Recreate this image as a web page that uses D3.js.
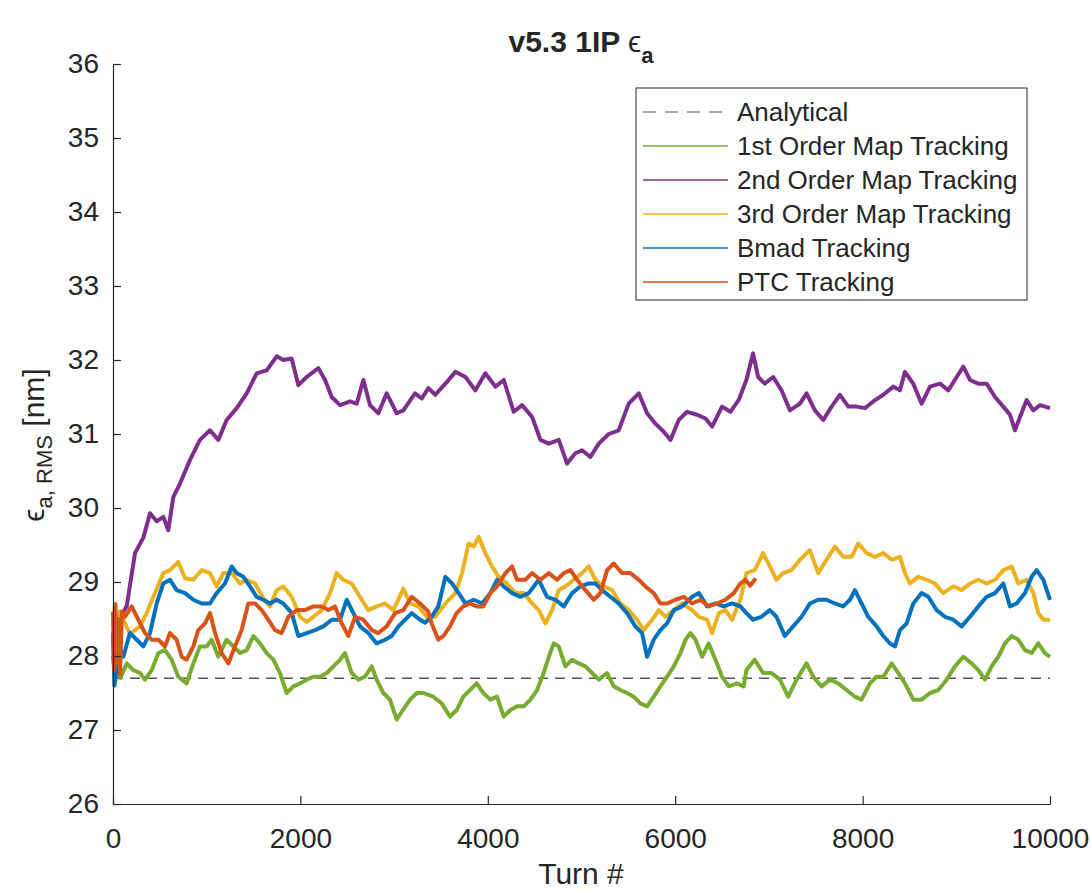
<!DOCTYPE html>
<html>
<head>
<meta charset="utf-8">
<script src="https://cdn.jsdelivr.net/npm/d3@7"></script>
<style>
  body { margin: 0; background: #fff; }
  text { font-family: "Liberation Sans", Arial, Helvetica, sans-serif; fill: #262626; }
</style>
</head>
<body>
<svg id="chart" width="1091" height="891"></svg>
<script>
// values: [turn, emittance nm]
const seriesNames = ["Analytical", "1st Order Map Tracking", "2nd Order Map Tracking",
  "3rd Order Map Tracking", "Bmad Tracking", "PTC Tracking"];
const seriesColors = ["#555555", "#77AC30", "#7E2F8E", "#EDB120", "#0072BD", "#D95319"];
const analytical = 27.7;
const xTicks = [0, 2000, 4000, 6000, 8000, 10000];
const yTicks = [26, 27, 28, 29, 30, 31, 32, 33, 34, 35, 36];

const firstOrder = [[0,28.0],[20,27.75],[50,27.95],[80,27.7],[146,27.9],[217,27.81],[288,27.77],[342,27.68],[413,27.81],[484,28.04],[555,28.08],[626,27.95],[697,27.72],[786,27.63],[857,27.9],[928,28.13],[999,28.13],[1053,28.22],[1124,27.99],[1213,28.22],[1284,28.13],[1356,28.04],[1427,28.08],[1498,28.27],[1569,28.17],[1640,28.04],[1711,27.95],[1782,27.77],[1853,27.5],[1925,27.59],[1996,27.63],[2067,27.68],[2138,27.72],[2209,27.72],[2281,27.77],[2352,27.86],[2423,27.95],[2476,28.04],[2547,27.77],[2618,27.68],[2689,27.72],[2761,27.86],[2814,27.68],[2885,27.5],[2956,27.41],[3028,27.14],[3099,27.28],[3171,27.41],[3242,27.5],[3313,27.5],[3419,27.45],[3508,27.36],[3597,27.18],[3668,27.27],[3739,27.45],[3810,27.54],[3881,27.63],[3952,27.5],[4028,27.41],[4099,27.45],[4170,27.18],[4241,27.27],[4312,27.32],[4384,27.32],[4455,27.41],[4526,27.54],[4597,27.77],[4651,27.99],[4704,28.17],[4757,28.13],[4828,27.86],[4900,27.95],[4971,27.9],[5042,27.86],[5113,27.77],[5184,27.68],[5273,27.77],[5344,27.59],[5415,27.54],[5486,27.5],[5557,27.45],[5628,27.36],[5700,27.32],[5771,27.45],[5842,27.59],[5913,27.72],[5985,27.86],[6056,28.04],[6110,28.22],[6163,28.31],[6216,28.22],[6287,27.99],[6358,28.17],[6430,27.95],[6500,27.72],[6571,27.59],[6660,27.63],[6731,27.59],[6760,27.81],[6849,27.95],[6938,27.77],[7028,27.77],[7117,27.68],[7206,27.45],[7295,27.68],[7402,27.9],[7473,27.72],[7562,27.59],[7651,27.68],[7740,27.63],[7829,27.54],[7918,27.45],[7989,27.41],[8078,27.63],[8149,27.72],[8221,27.72],[8310,27.9],[8381,27.77],[8452,27.63],[8541,27.41],[8630,27.41],[8719,27.5],[8808,27.54],[8897,27.68],[8986,27.86],[9075,27.99],[9164,27.9],[9235,27.81],[9306,27.68],[9377,27.86],[9448,27.99],[9520,28.17],[9591,28.27],[9662,28.22],[9733,28.08],[9804,28.04],[9875,28.17],[9946,28.04],[10000,27.99]];

const secondOrder = [[0,28.3],[60,28.5],[146,28.67],[235,29.39],[324,29.6],[395,29.93],[466,29.82],[537,29.88],[590,29.7],[644,30.15],[715,30.33],[822,30.65],[928,30.92],[1035,31.05],[1124,30.92],[1213,31.19],[1320,31.35],[1427,31.55],[1533,31.82],[1640,31.86],[1747,32.05],[1818,32.0],[1907,32.02],[1978,31.66],[2067,31.77],[2192,31.89],[2263,31.73],[2334,31.5],[2423,31.39],[2530,31.44],[2601,31.41],[2672,31.73],[2743,31.39],[2832,31.28],[2921,31.55],[3028,31.28],[3099,31.32],[3223,31.55],[3295,31.48],[3366,31.62],[3440,31.53],[3547,31.68],[3654,31.84],[3761,31.77],[3867,31.59],[3974,31.82],[4081,31.64],[4170,31.73],[4277,31.3],[4366,31.39],[4473,31.23],[4562,30.92],[4651,30.87],[4757,30.92],[4846,30.6],[4935,30.74],[5006,30.78],[5095,30.69],[5184,30.87],[5291,31.0],[5397,31.05],[5504,31.41],[5611,31.55],[5700,31.28],[5789,31.14],[5878,31.03],[5949,30.92],[6038,31.19],[6127,31.3],[6234,31.26],[6323,31.21],[6394,31.1],[6500,31.37],[6589,31.3],[6678,31.46],[6760,31.73],[6831,32.09],[6885,31.77],[6956,31.68],[7046,31.77],[7135,31.59],[7224,31.32],[7331,31.41],[7402,31.55],[7491,31.32],[7580,31.19],[7669,31.37],[7758,31.53],[7847,31.37],[7936,31.37],[8025,31.35],[8114,31.44],[8221,31.53],[8328,31.64],[8399,31.59],[8452,31.84],[8541,31.68],[8630,31.41],[8719,31.64],[8826,31.68],[8915,31.59],[9004,31.77],[9075,31.91],[9146,31.73],[9235,31.68],[9324,31.68],[9413,31.5],[9502,31.37],[9573,31.26],[9626,31.05],[9680,31.23],[9751,31.46],[9822,31.32],[9893,31.39],[10000,31.35]];

const thirdOrder = [[0,28.4],[20,28.7],[40,28.2],[70,28.6],[180,28.3],[288,28.4],[359,28.58],[448,28.85],[537,29.12],[608,29.16],[697,29.27],[769,29.05],[857,29.03],[946,29.16],[1035,29.12],[1106,28.94],[1178,29.12],[1267,29.12],[1356,28.98],[1427,29.03],[1516,28.98],[1604,28.78],[1675,28.67],[1747,28.89],[1818,28.94],[1907,28.8],[1996,28.53],[2067,28.46],[2138,28.53],[2227,28.62],[2316,28.85],[2387,29.12],[2458,29.03],[2547,28.98],[2636,28.8],[2725,28.62],[2814,28.67],[2903,28.71],[2992,28.62],[3099,28.91],[3171,28.71],[3259,28.67],[3348,28.53],[3440,28.53],[3547,28.71],[3654,28.85],[3725,29.12],[3796,29.52],[3850,29.48],[3903,29.61],[3974,29.39],[4045,29.21],[4116,29.07],[4205,28.98],[4294,28.85],[4384,28.85],[4473,28.71],[4544,28.62],[4615,28.44],[4686,28.62],[4757,28.89],[4828,28.94],[4917,29.03],[5006,29.12],[5077,29.21],[5148,29.03],[5237,28.94],[5326,28.89],[5415,28.71],[5504,28.62],[5593,28.49],[5664,28.35],[5753,28.49],[5824,28.62],[5896,28.53],[5985,28.62],[6074,28.71],[6181,28.62],[6252,28.53],[6341,28.49],[6394,28.31],[6465,28.58],[6536,28.62],[6607,28.49],[6696,28.76],[6760,29.12],[6849,29.16],[6938,29.39],[7010,29.21],[7081,29.03],[7152,29.12],[7241,29.16],[7331,29.3],[7437,29.43],[7526,29.12],[7615,29.3],[7704,29.48],[7793,29.34],[7882,29.34],[7954,29.52],[8043,29.39],[8132,29.34],[8221,29.39],[8310,29.3],[8399,29.34],[8452,29.12],[8505,28.98],[8594,29.07],[8683,29.03],[8772,28.98],[8861,28.85],[8968,28.94],[9057,28.89],[9146,28.98],[9235,29.03],[9324,28.98],[9413,29.03],[9502,29.16],[9591,29.21],[9662,28.98],[9751,29.03],[9822,28.85],[9875,28.58],[9929,28.49],[10000,28.49]];

const bmad = [[0,28.3],[15,27.6],[39,27.77],[70,28.1],[110,27.99],[181,28.31],[253,28.22],[324,28.13],[395,28.31],[466,28.71],[537,28.98],[608,29.03],[679,28.89],[769,28.85],[857,28.76],[946,28.71],[1035,28.71],[1106,28.85],[1195,28.98],[1267,29.21],[1320,29.12],[1391,29.07],[1462,28.94],[1533,28.8],[1604,28.76],[1675,28.71],[1747,28.76],[1818,28.71],[1907,28.58],[1978,28.27],[2067,28.31],[2156,28.35],[2245,28.4],[2334,28.49],[2423,28.49],[2494,28.76],[2565,28.58],[2636,28.4],[2725,28.31],[2814,28.17],[2903,28.22],[2974,28.27],[3046,28.4],[3117,28.49],[3188,28.58],[3277,28.49],[3330,28.45],[3401,28.53],[3472,28.67],[3547,29.07],[3618,28.98],[3689,28.85],[3761,28.71],[3850,28.76],[3939,28.71],[4028,28.85],[4099,29.03],[4170,28.94],[4259,28.85],[4348,28.8],[4437,28.85],[4544,29.03],[4633,28.8],[4722,28.76],[4811,28.67],[4900,28.85],[4988,28.94],[5077,28.98],[5148,28.98],[5220,28.89],[5308,28.8],[5397,28.71],[5486,28.58],[5575,28.4],[5646,28.31],[5700,27.99],[5771,28.22],[5842,28.35],[5913,28.44],[5985,28.62],[6074,28.67],[6181,28.8],[6252,28.85],[6341,28.67],[6430,28.71],[6518,28.67],[6607,28.71],[6696,28.67],[6760,28.58],[6831,28.49],[6920,28.53],[7010,28.62],[7081,28.53],[7170,28.27],[7259,28.4],[7348,28.53],[7437,28.71],[7526,28.76],[7615,28.76],[7704,28.71],[7793,28.67],[7865,28.76],[7918,28.89],[7989,28.71],[8060,28.53],[8149,28.4],[8221,28.27],[8292,28.17],[8345,28.13],[8399,28.35],[8470,28.44],[8541,28.71],[8630,28.85],[8701,28.8],[8790,28.62],[8879,28.53],[8968,28.49],[9057,28.4],[9146,28.53],[9235,28.67],[9324,28.8],[9413,28.85],[9502,28.98],[9573,28.67],[9644,28.71],[9733,28.85],[9804,29.07],[9857,29.16],[9929,29.03],[10000,28.76]];

const ptc = [[0,28.6],[12,27.8],[25,28.7],[40,27.9],[57,28.5],[75,27.75],[95,28.6],[128,28.53],[199,28.67],[270,28.49],[342,28.31],[413,28.22],[484,28.22],[555,28.13],[608,28.31],[679,28.22],[733,27.99],[786,27.95],[857,28.13],[910,28.35],[982,28.44],[1035,28.58],[1089,28.31],[1160,28.04],[1231,27.9],[1302,28.13],[1373,28.35],[1444,28.71],[1516,28.71],[1587,28.62],[1658,28.49],[1729,28.35],[1800,28.31],[1871,28.53],[1960,28.62],[2049,28.62],[2138,28.67],[2227,28.67],[2298,28.62],[2369,28.67],[2441,28.44],[2512,28.27],[2583,28.53],[2672,28.49],[2761,28.35],[2832,28.31],[2921,28.4],[3010,28.58],[3099,28.62],[3188,28.8],[3277,28.71],[3366,28.6],[3401,28.44],[3472,28.22],[3525,28.27],[3596,28.4],[3667,28.58],[3739,28.67],[3810,28.71],[3881,28.67],[3952,28.67],[4028,28.85],[4099,28.94],[4188,29.12],[4259,29.21],[4312,29.03],[4401,29.03],[4473,29.12],[4562,29.03],[4651,29.12],[4740,29.03],[4811,29.12],[4882,29.16],[4953,29.03],[5042,28.89],[5130,28.76],[5202,28.85],[5273,29.16],[5344,29.25],[5433,29.12],[5522,29.12],[5611,29.03],[5682,28.94],[5771,28.85],[5842,28.71],[5913,28.71],[6002,28.76],[6092,28.8],[6181,28.71],[6270,28.76],[6358,28.67],[6447,28.71],[6536,28.76],[6625,28.85],[6696,28.98],[6749,29.03],[6800,28.95],[6860,29.05]];

const tracks = [firstOrder, secondOrder, thirdOrder, bmad, ptc];

const svg = d3.select("#chart");
const x = d3.scaleLinear().domain([0, 10000]).range([113, 1050]);
const y = d3.scaleLinear().domain([26, 36]).range([804, 64]);

// analytical reference
svg.append("line")
    .attr("x1", x(0)).attr("x2", x(10000))
    .attr("y1", y(analytical)).attr("y2", y(analytical))
    .attr("stroke", seriesColors[0])
    .attr("stroke-width", 1.5)
    .attr("stroke-dasharray", "10,7");

const line = d3.line().x(d => x(d[0])).y(d => y(d[1]));

// thick strokes stand in for the turn-by-turn jitter band
svg.append("g").selectAll("path")
  .data(tracks)
  .join("path")
    .attr("d", line)
    .attr("fill", "none")
    .attr("stroke", (d, i) => seriesColors[i + 1])
    .attr("stroke-width", 4)
    .attr("stroke-linejoin", "round");

// axes, only left and bottom like the original
const xAxis = svg.append("g")
    .attr("transform", "translate(0,804)")
    .call(d3.axisBottom(x).tickValues(xTicks).tickFormat(d3.format("d"))
      .tickSizeInner(-8).tickSizeOuter(0).tickPadding(24));

const yAxis = svg.append("g")
    .attr("transform", "translate(113,0)")
    .call(d3.axisLeft(y).tickValues(yTicks).tickFormat(d3.format("d"))
      .tickSizeInner(-8).tickSizeOuter(0).tickPadding(14));

[xAxis, yAxis].forEach(g => {
  g.selectAll("path, line").attr("stroke", "#262626").attr("stroke-width", 1.2);
  g.selectAll("text").attr("font-size", 28).attr("fill", "#262626")
    .style("font-family", '"Liberation Sans", Arial, sans-serif');
});

// title
const title = svg.append("text")
    .attr("x", 581).attr("y", 52)
    .attr("text-anchor", "middle")
    .attr("font-size", 30);
title.append("tspan").attr("font-weight", "bold").text("v5.3 1IP ");
title.append("tspan").text("ϵ");
title.append("tspan").attr("font-weight", "bold").attr("font-size", 22).attr("dy", 11).text("a");

// axis labels
svg.append("text")
    .attr("x", 581).attr("y", 884)
    .attr("text-anchor", "middle")
    .attr("font-size", 30)
    .text("Turn #");

const yLabel = svg.append("text")
    .attr("transform", "translate(44,445) rotate(-90)")
    .attr("text-anchor", "middle")
    .attr("font-size", 30);
yLabel.append("tspan").text("ϵ");
yLabel.append("tspan").attr("font-size", 22).attr("dy", 8).text("a, RMS");
yLabel.append("tspan").attr("dy", -8).text(" [nm]");

// legend
const legend = svg.append("g");
legend.append("rect")
    .attr("x", 636).attr("y", 88)
    .attr("width", 391).attr("height", 212)
    .attr("fill", "#fff")
    .attr("stroke", "#262626")
    .attr("stroke-width", 1);

const rows = legend.selectAll("g.row")
  .data(seriesNames)
  .join("g")
    .attr("class", "row")
    .attr("transform", (d, i) => `translate(0,${112 + i * 34})`);

rows.append("line")
    .attr("x1", 643).attr("x2", 728)
    .attr("stroke", (d, i) => seriesColors[i])
    .attr("stroke-width", (d, i) => i === 0 ? 1.2 : 1.5)
    .attr("stroke-dasharray", (d, i) => i === 0 ? "13,9" : null);

rows.append("text")
    .attr("x", 737)
    .attr("dy", "0.35em")
    .attr("font-size", 26)
    .text(d => d);
</script>
</body>
</html>
